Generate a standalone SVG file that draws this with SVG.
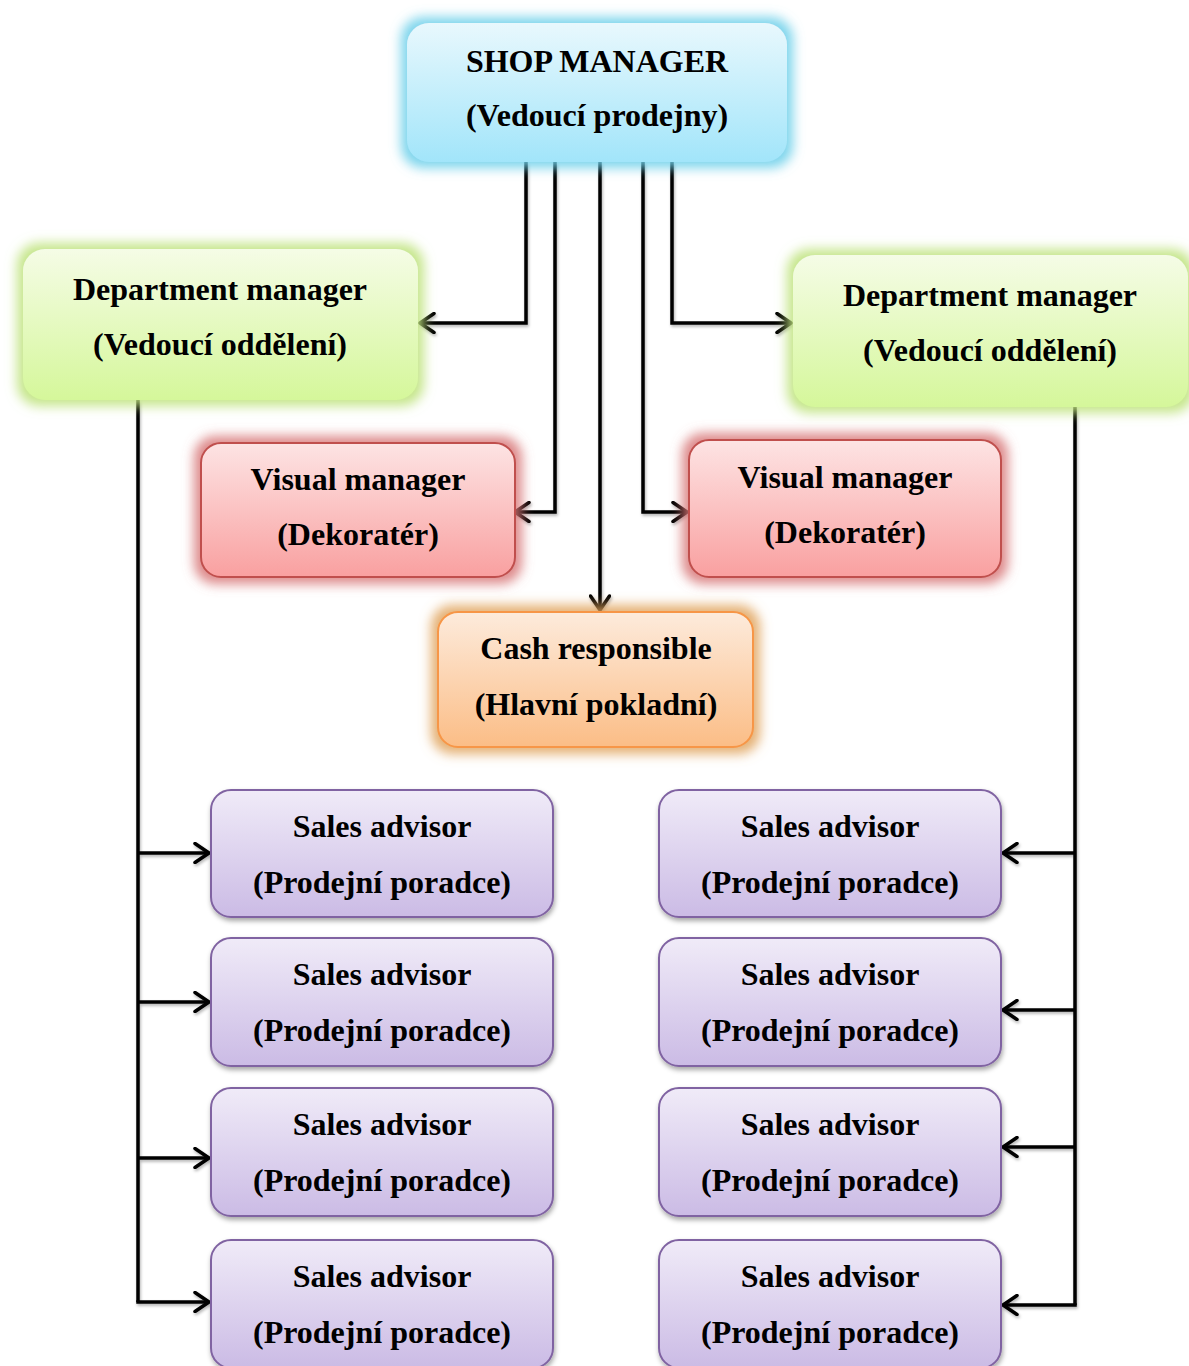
<svg xmlns="http://www.w3.org/2000/svg" width="1189" height="1366" viewBox="0 0 1189 1366">
  <defs>
    <linearGradient id="gBlue" x1="0" y1="0" x2="0" y2="1">
      <stop offset="0" stop-color="#e8f8fd"/>
      <stop offset="1" stop-color="#a2e5fa"/>
    </linearGradient>
    <linearGradient id="gGreen" x1="0" y1="0" x2="0" y2="1">
      <stop offset="0" stop-color="#f5fce6"/>
      <stop offset="1" stop-color="#d5f79a"/>
    </linearGradient>
    <linearGradient id="gRed" x1="0" y1="0" x2="0" y2="1">
      <stop offset="0" stop-color="#fde4e4"/>
      <stop offset="1" stop-color="#f9a0a0"/>
    </linearGradient>
    <linearGradient id="gOrange" x1="0" y1="0" x2="0" y2="1">
      <stop offset="0" stop-color="#fdebdc"/>
      <stop offset="1" stop-color="#fbbd86"/>
    </linearGradient>
    <linearGradient id="gPurple" x1="0" y1="0" x2="0" y2="1">
      <stop offset="0" stop-color="#f0ebf8"/>
      <stop offset="1" stop-color="#cbbbe5"/>
    </linearGradient>

    <!-- soft coloured halo behind the upper boxes -->
    <filter id="glowBlue" x="-20%" y="-30%" width="140%" height="160%">
      <feMorphology in="SourceAlpha" operator="dilate" radius="6" result="d"/>
      <feGaussianBlur in="d" stdDeviation="6" result="b"/>
      <feFlood flood-color="#6fd0ea" flood-opacity="0.9"/>
      <feComposite in2="b" operator="in" result="g"/>
      <feMerge><feMergeNode in="g"/><feMergeNode in="SourceGraphic"/></feMerge>
    </filter>
    <filter id="glowGreen" x="-20%" y="-30%" width="140%" height="160%">
      <feMorphology in="SourceAlpha" operator="dilate" radius="6" result="d"/>
      <feGaussianBlur in="d" stdDeviation="6" result="b"/>
      <feFlood flood-color="#bfe37e" flood-opacity="0.9"/>
      <feComposite in2="b" operator="in" result="g"/>
      <feMerge><feMergeNode in="g"/><feMergeNode in="SourceGraphic"/></feMerge>
    </filter>
    <filter id="glowRed" x="-20%" y="-30%" width="140%" height="160%">
      <feMorphology in="SourceAlpha" operator="dilate" radius="6" result="d"/>
      <feGaussianBlur in="d" stdDeviation="6" result="b"/>
      <feFlood flood-color="#d77475" flood-opacity="0.85"/>
      <feComposite in2="b" operator="in" result="g"/>
      <feMerge><feMergeNode in="g"/><feMergeNode in="SourceGraphic"/></feMerge>
    </filter>
    <filter id="glowOrange" x="-20%" y="-30%" width="140%" height="160%">
      <feMorphology in="SourceAlpha" operator="dilate" radius="6" result="d"/>
      <feGaussianBlur in="d" stdDeviation="6" result="b"/>
      <feFlood flood-color="#e0a25a" flood-opacity="0.85"/>
      <feComposite in2="b" operator="in" result="g"/>
      <feMerge><feMergeNode in="g"/><feMergeNode in="SourceGraphic"/></feMerge>
    </filter>
    <filter id="shadow" x="-10%" y="-10%" width="120%" height="130%">
      <feGaussianBlur in="SourceAlpha" stdDeviation="2.5" result="b"/>
      <feOffset in="b" dx="1" dy="3" result="o"/>
      <feFlood flood-color="#000" flood-opacity="0.35"/>
      <feComposite in2="o" operator="in" result="s"/>
      <feMerge><feMergeNode in="s"/><feMergeNode in="SourceGraphic"/></feMerge>
    </filter>
    <filter id="lineShadow" x="-5%" y="-5%" width="110%" height="110%">
      <feGaussianBlur in="SourceAlpha" stdDeviation="1.5" result="b"/>
      <feOffset in="b" dx="1" dy="2" result="o"/>
      <feFlood flood-color="#000" flood-opacity="0.3"/>
      <feComposite in2="o" operator="in" result="s"/>
      <feMerge><feMergeNode in="s"/><feMergeNode in="SourceGraphic"/></feMerge>
    </filter>

    <marker id="arrow" viewBox="0 0 20 22" refX="18" refY="11" markerWidth="20" markerHeight="22" markerUnits="userSpaceOnUse" orient="auto">
      <path d="M4,1.5 L18,11 L4,20.5" fill="none" stroke="#000" stroke-width="3.5" stroke-linecap="round" stroke-linejoin="round"/>
    </marker>
  </defs>

  <style>
    text { font-family: "Liberation Serif", "Times New Roman", serif; font-weight: bold; font-size: 32px; fill: #000; text-anchor: middle; }
    .blue { fill: url(#gBlue); filter: url(#glowBlue); }
    .green { fill: url(#gGreen); filter: url(#glowGreen); }
    .red { fill: url(#gRed); stroke: #c0504d; stroke-width: 2; filter: url(#glowRed); }
    .orange { fill: url(#gOrange); stroke: #f79646; stroke-width: 2; filter: url(#glowOrange); }
    .purple { fill: url(#gPurple); stroke: #8064a2; stroke-width: 2; filter: url(#shadow); }
    .conn path { fill: none; stroke: #000; stroke-width: 3.5; stroke-linejoin: miter; }
    .conn path.arr { marker-end: url(#arrow); }
  </style>

  <rect width="1189" height="1366" fill="#fff"/>

  <!-- connectors -->
  <g id="connectors" class="conn" filter="url(#lineShadow)">
    <path class="arr" d="M526,162 V323 H420"/>
    <path class="arr" d="M555,162 V512 H515"/>
    <path class="arr" d="M600,162 V610"/>
    <path class="arr" d="M643,162 V512 H687"/>
    <path class="arr" d="M672,162 V323 H791"/>
    <!-- department trunks -->
    <path d="M138,400 V1302"/>
    <path d="M1075,407 V1305"/>
    <path class="arr" d="M138,853 H209"/>
    <path class="arr" d="M138,1002 H209"/>
    <path class="arr" d="M138,1158 H209"/>
    <path class="arr" d="M136.25,1302 H209"/>
    <path class="arr" d="M1075,853 H1003"/>
    <path class="arr" d="M1075,1010 H1003"/>
    <path class="arr" d="M1075,1147 H1003"/>
    <path class="arr" d="M1076.75,1305 H1003"/>
  </g>

  <g id="shop-manager">
    <rect class="blue" x="407" y="23" width="380" height="139" rx="22"/>
    <text x="597" y="72">SHOP MANAGER</text>
    <text x="597" y="126">(Vedoucí prodejny)</text>
  </g>

  <g id="dept-manager-left">
    <rect class="green" x="23" y="249" width="395" height="151" rx="22"/>
    <text x="220" y="300">Department manager</text>
    <text x="220" y="355">(Vedoucí oddělení)</text>
  </g>

  <g id="dept-manager-right">
    <rect class="green" x="793" y="255" width="395" height="152" rx="22"/>
    <text x="990" y="306">Department manager</text>
    <text x="990" y="361">(Vedoucí oddělení)</text>
  </g>

  <g id="visual-manager-left">
    <rect class="red" x="201" y="443" width="314" height="134" rx="20"/>
    <text x="358" y="490">Visual manager</text>
    <text x="358" y="545">(Dekoratér)</text>
  </g>

  <g id="visual-manager-right">
    <rect class="red" x="689" y="440" width="312" height="137" rx="20"/>
    <text x="845" y="488">Visual manager</text>
    <text x="845" y="543">(Dekoratér)</text>
  </g>

  <g id="cash-responsible">
    <rect class="orange" x="438" y="612" width="315" height="135" rx="20"/>
    <text x="596" y="659">Cash responsible</text>
    <text x="596" y="715">(Hlavní pokladní)</text>
  </g>

  <g id="sales-left-1">
    <rect class="purple" x="211" y="790" width="342" height="127" rx="20"/>
    <text x="382" y="837">Sales advisor</text>
    <text x="382" y="893">(Prodejní poradce)</text>
  </g>
  <g id="sales-left-2">
    <rect class="purple" x="211" y="938" width="342" height="128" rx="20"/>
    <text x="382" y="985">Sales advisor</text>
    <text x="382" y="1041">(Prodejní poradce)</text>
  </g>
  <g id="sales-left-3">
    <rect class="purple" x="211" y="1088" width="342" height="128" rx="20"/>
    <text x="382" y="1135">Sales advisor</text>
    <text x="382" y="1191">(Prodejní poradce)</text>
  </g>
  <g id="sales-left-4">
    <rect class="purple" x="211" y="1240" width="342" height="128" rx="20"/>
    <text x="382" y="1287">Sales advisor</text>
    <text x="382" y="1343">(Prodejní poradce)</text>
  </g>

  <g id="sales-right-1">
    <rect class="purple" x="659" y="790" width="342" height="127" rx="20"/>
    <text x="830" y="837">Sales advisor</text>
    <text x="830" y="893">(Prodejní poradce)</text>
  </g>
  <g id="sales-right-2">
    <rect class="purple" x="659" y="938" width="342" height="128" rx="20"/>
    <text x="830" y="985">Sales advisor</text>
    <text x="830" y="1041">(Prodejní poradce)</text>
  </g>
  <g id="sales-right-3">
    <rect class="purple" x="659" y="1088" width="342" height="128" rx="20"/>
    <text x="830" y="1135">Sales advisor</text>
    <text x="830" y="1191">(Prodejní poradce)</text>
  </g>
  <g id="sales-right-4">
    <rect class="purple" x="659" y="1240" width="342" height="128" rx="20"/>
    <text x="830" y="1287">Sales advisor</text>
    <text x="830" y="1343">(Prodejní poradce)</text>
  </g>
</svg>
